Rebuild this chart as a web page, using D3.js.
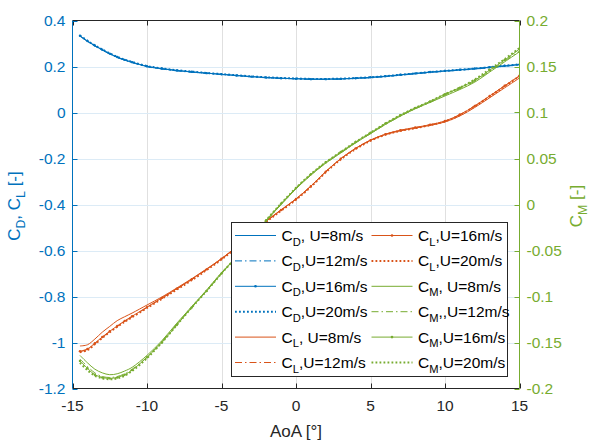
<!DOCTYPE html>
<html>
<head>
<meta charset="utf-8">
<script src="https://cdn.jsdelivr.net/npm/d3@7"></script>
<style>
  html, body { margin: 0; padding: 0; background: #fff; }
  svg { display: block; font-family: "Liberation Sans", Arial, Helvetica, sans-serif; }
</style>
</head>
<body>
<svg id="chart" width="597" height="442"></svg>
<script>
// Angle of attack (deg)
const aoa = [-14.5,-14,-13.5,-13,-12.5,-12,-11.5,-11,-10,-9,-8,-7,-6,-5,-4,-3,-2,-1,0,1,2,3,4,5,6,7,8,9,10,11,12,13,14,15];

// Drag coefficient per wind speed
const cdU8  = [0.333,0.310,0.290,0.272,0.255,0.240,0.228,0.218,0.200,0.190,0.182,0.176,0.171,0.166,0.161,0.156,0.152,0.149,0.147,0.145,0.145,0.146,0.149,0.152,0.157,0.163,0.169,0.175,0.180,0.185,0.190,0.196,0.202,0.208];
const cdU12 = [0.332,0.309,0.289,0.271,0.254,0.239,0.227,0.217,0.199,0.189,0.181,0.175,0.170,0.165,0.160,0.155,0.151,0.148,0.146,0.144,0.144,0.145,0.148,0.151,0.156,0.162,0.168,0.174,0.179,0.184,0.189,0.195,0.201,0.207];
const cdU16 = [0.334,0.311,0.291,0.273,0.256,0.241,0.229,0.219,0.201,0.191,0.183,0.177,0.171,0.166,0.161,0.156,0.152,0.149,0.147,0.145,0.145,0.146,0.149,0.153,0.158,0.164,0.170,0.176,0.181,0.186,0.191,0.197,0.203,0.209];
const cdU20 = [0.335,0.312,0.292,0.274,0.257,0.242,0.230,0.220,0.202,0.192,0.184,0.178,0.172,0.167,0.162,0.157,0.153,0.150,0.148,0.146,0.146,0.147,0.150,0.153,0.158,0.164,0.170,0.176,0.181,0.186,0.191,0.197,0.203,0.209];

// Lift coefficient per wind speed
const clU8  = [-1.015,-1.010,-0.985,-0.955,-0.930,-0.905,-0.888,-0.872,-0.837,-0.802,-0.763,-0.723,-0.680,-0.635,-0.584,-0.528,-0.472,-0.423,-0.376,-0.320,-0.257,-0.201,-0.156,-0.121,-0.096,-0.080,-0.068,-0.056,-0.041,-0.015,0.022,0.064,0.107,0.150];
const clU12 = [-1.040,-1.030,-1.005,-0.978,-0.953,-0.930,-0.908,-0.888,-0.848,-0.808,-0.768,-0.727,-0.683,-0.637,-0.586,-0.530,-0.474,-0.425,-0.377,-0.321,-0.258,-0.202,-0.157,-0.121,-0.095,-0.078,-0.066,-0.054,-0.038,-0.010,0.028,0.071,0.115,0.158];
const clU16 = [-1.038,-1.028,-1.003,-0.976,-0.951,-0.928,-0.906,-0.886,-0.846,-0.806,-0.766,-0.725,-0.682,-0.636,-0.585,-0.529,-0.473,-0.424,-0.376,-0.320,-0.257,-0.201,-0.156,-0.120,-0.094,-0.077,-0.065,-0.053,-0.037,-0.009,0.029,0.072,0.116,0.160];
const clU20 = [-1.042,-1.033,-1.008,-0.980,-0.955,-0.932,-0.910,-0.890,-0.850,-0.810,-0.770,-0.729,-0.685,-0.639,-0.588,-0.532,-0.476,-0.427,-0.379,-0.323,-0.260,-0.204,-0.159,-0.123,-0.097,-0.080,-0.068,-0.055,-0.039,-0.011,0.027,0.070,0.114,0.158];

// Pitching moment coefficient per wind speed
const cmU8  = [-0.164,-0.172,-0.179,-0.183,-0.185,-0.184,-0.181,-0.177,-0.164,-0.148,-0.129,-0.111,-0.093,-0.074,-0.057,-0.038,-0.018,0.000,0.017,0.032,0.045,0.056,0.067,0.077,0.087,0.096,0.104,0.111,0.118,0.125,0.133,0.144,0.155,0.166];
const cmU12 = [-0.168,-0.176,-0.183,-0.187,-0.188,-0.187,-0.184,-0.179,-0.166,-0.149,-0.130,-0.112,-0.094,-0.075,-0.057,-0.038,-0.018,0.000,0.017,0.032,0.045,0.056,0.067,0.077,0.087,0.096,0.104,0.111,0.119,0.126,0.134,0.145,0.156,0.167];
const cmU16 = [-0.170,-0.178,-0.185,-0.188,-0.189,-0.188,-0.185,-0.180,-0.166,-0.150,-0.131,-0.112,-0.094,-0.075,-0.057,-0.037,-0.017,0.001,0.018,0.033,0.046,0.057,0.068,0.078,0.088,0.097,0.105,0.112,0.120,0.127,0.135,0.146,0.157,0.169];
const cmU20 = [-0.172,-0.180,-0.186,-0.189,-0.190,-0.189,-0.186,-0.181,-0.167,-0.150,-0.131,-0.112,-0.094,-0.075,-0.057,-0.037,-0.017,0.001,0.018,0.033,0.046,0.057,0.068,0.078,0.088,0.097,0.105,0.112,0.120,0.127,0.136,0.147,0.158,0.170];

// Tick values
const xTicks  = [-15,-10,-5,0,5,10,15];
const yLTicks = [-1.2,-1,-0.8,-0.6,-0.4,-0.2,0,0.2,0.4];
const yRTicks = [-0.2,-0.15,-0.1,-0.05,0,0.05,0.1,0.15,0.2];

const blue = "#0072BD", orange = "#D95319", green = "#77AC30", ink = "#262626";

const svg = d3.select("#chart");
const L = 72.5, R = 519.5, T = 20.5, B = 388.5;

const x  = d3.scaleLinear().domain([-15, 15]).range([L, R]);
const yL = d3.scaleLinear().domain([-1.2, 0.4]).range([B, T]);
const yR = d3.scaleLinear().domain([-0.2, 0.2]).range([B, T]);

// line styles for each wind speed
const styles = {
  U8:  { dash: null,        width: 1.0, marker: false },
  U12: { dash: "7,3,1.5,3", width: 1.0, marker: false },
  U16: { dash: null,        width: 1.0, marker: true  },
  U20: { dash: "1.8,2.2",   width: 2.0, marker: false }
};

const series = [
  { v: cdU8,  axis: "L", color: blue,   s: "U8"  },
  { v: cdU12, axis: "L", color: blue,   s: "U12" },
  { v: cdU16, axis: "L", color: blue,   s: "U16" },
  { v: cdU20, axis: "L", color: blue,   s: "U20" },
  { v: clU8,  axis: "L", color: orange, s: "U8"  },
  { v: clU12, axis: "L", color: orange, s: "U12" },
  { v: clU16, axis: "L", color: orange, s: "U16" },
  { v: clU20, axis: "L", color: orange, s: "U20" },
  { v: cmU8,  axis: "R", color: green,  s: "U8"  },
  { v: cmU12, axis: "R", color: green,  s: "U12" },
  { v: cmU16, axis: "R", color: green,  s: "U16" },
  { v: cmU20, axis: "R", color: green,  s: "U20" }
];

// Grid
const grid = svg.append("g");
grid.selectAll(".gx").data(xTicks.slice(1, -1)).join("line")
  .attr("x1", d => Math.round(x(d)) + 0.5).attr("x2", d => Math.round(x(d)) + 0.5)
  .attr("y1", T).attr("y2", B)
  .attr("stroke", "#e0e0e0").attr("stroke-width", 1);
grid.selectAll(".gy").data(yLTicks.slice(1, -1)).join("line")
  .attr("x1", L).attr("x2", R)
  .attr("y1", d => Math.round(yL(d)) + 0.5).attr("y2", d => Math.round(yL(d)) + 0.5)
  .attr("stroke", "#dcebf6").attr("stroke-width", 1);

// Data
svg.append("clipPath").attr("id", "plotclip")
  .append("rect").attr("x", L).attr("y", T).attr("width", R - L).attr("height", B - T);
const plot = svg.append("g").attr("clip-path", "url(#plotclip)");

series.forEach(sr => {
  const ys = sr.axis === "L" ? yL : yR;
  const st = styles[sr.s];
  const pts = aoa.map((a, i) => [a, sr.v[i]]);
  const line = d3.line().x(d => x(d[0])).y(d => ys(d[1])).curve(d3.curveCatmullRom.alpha(0.5));
  plot.append("path").attr("d", line(pts))
    .attr("fill", "none").attr("stroke", sr.color)
    .attr("stroke-width", st.width)
    .attr("stroke-dasharray", st.dash);
  if (st.marker) {
    plot.selectAll(null).data(pts).join("circle")
      .attr("cx", d => x(d[0])).attr("cy", d => ys(d[1])).attr("r", 1.2)
      .attr("fill", sr.color);
  }
});

// Axes
const tickLen = 5;
const tickFont = 15.5;
const axes = svg.append("g").attr("font-size", tickFont);

// top & bottom frame
axes.append("line").attr("x1", L).attr("x2", R).attr("y1", T).attr("y2", T).attr("stroke", ink).attr("stroke-width", 1);
axes.append("line").attr("x1", L).attr("x2", R).attr("y1", B).attr("y2", B).attr("stroke", ink).attr("stroke-width", 1);
axes.selectAll(".xt").data(xTicks).join("line")
  .attr("x1", d => Math.round(x(d)) + 0.5).attr("x2", d => Math.round(x(d)) + 0.5)
  .attr("y1", B).attr("y2", B - tickLen).attr("stroke", ink);
axes.selectAll(".xt2").data(xTicks).join("line")
  .attr("x1", d => Math.round(x(d)) + 0.5).attr("x2", d => Math.round(x(d)) + 0.5)
  .attr("y1", T).attr("y2", T + tickLen).attr("stroke", ink);
axes.selectAll(".xl").data(xTicks).join("text")
  .attr("x", d => x(d)).attr("y", B + 22).attr("text-anchor", "middle")
  .attr("font-size", tickFont).attr("fill", ink).text(d => d);
axes.append("text").attr("x", x(0)).attr("y", 437).attr("text-anchor", "middle")
  .attr("font-size", 17).attr("fill", ink).text("AoA [°]");

// left axis
axes.append("line").attr("x1", L).attr("x2", L).attr("y1", T).attr("y2", B).attr("stroke", blue);
axes.selectAll(".ylt").data(yLTicks).join("line")
  .attr("x1", L).attr("x2", L + tickLen)
  .attr("y1", d => Math.round(yL(d)) + 0.5).attr("y2", d => Math.round(yL(d)) + 0.5)
  .attr("stroke", blue);
axes.selectAll(".yll").data(yLTicks).join("text")
  .attr("x", L - 7).attr("y", d => yL(d) + 5.5).attr("text-anchor", "end")
  .attr("font-size", tickFont).attr("fill", blue).text(d => +d.toFixed(2));

// right axis
axes.append("line").attr("x1", R).attr("x2", R).attr("y1", T).attr("y2", B).attr("stroke", green);
axes.selectAll(".yrt").data(yRTicks).join("line")
  .attr("x1", R).attr("x2", R - tickLen)
  .attr("y1", d => Math.round(yR(d)) + 0.5).attr("y2", d => Math.round(yR(d)) + 0.5)
  .attr("stroke", green);
axes.selectAll(".yrl").data(yRTicks).join("text")
  .attr("x", R + 7).attr("y", d => yR(d) + 5.5).attr("text-anchor", "start")
  .attr("font-size", tickFont).attr("fill", green).text(d => +d.toFixed(2));

// text with subscripts: the shift is undone on the next run of normal text
function subText(sel, parts, size) {
  sel.attr("font-size", size);
  let shift = 0;
  parts.forEach(p => {
    if (p.sub) {
      sel.append("tspan").attr("font-size", size * 0.72).attr("dy", size * 0.3).text(p.t);
      shift = size * 0.3;
    } else {
      sel.append("tspan").attr("font-size", size).attr("dy", -shift).text(p.t);
      shift = 0;
    }
  });
}
const yLab = svg.append("text").attr("transform", "translate(20,206) rotate(-90)")
  .attr("text-anchor", "middle").attr("fill", blue);
subText(yLab, [{t: "C"}, {t: "D", sub: true}, {t: ", C"}, {t: "L", sub: true}, {t: " [-]"}], 17);

const yRLab = svg.append("text").attr("transform", "translate(582,206) rotate(-90)")
  .attr("text-anchor", "middle").attr("fill", green);
subText(yRLab, [{t: "C"}, {t: "M", sub: true}, {t: " [-]"}], 17);

// Legend
const legendItems = [
  { c: "D", tail: ", U=8m/s",  color: blue,   s: "U8"  },
  { c: "D", tail: ",U=12m/s",  color: blue,   s: "U12" },
  { c: "D", tail: ",U=16m/s",  color: blue,   s: "U16" },
  { c: "D", tail: ",U=20m/s",  color: blue,   s: "U20" },
  { c: "L", tail: ", U=8m/s",  color: orange, s: "U8"  },
  { c: "L", tail: ",U=12m/s",  color: orange, s: "U12" },
  { c: "L", tail: ",U=16m/s",  color: orange, s: "U16" },
  { c: "L", tail: ",U=20m/s",  color: orange, s: "U20" },
  { c: "M", tail: ", U=8m/s",  color: green,  s: "U8"  },
  { c: "M", tail: ",,U=12m/s", color: green,  s: "U12" },
  { c: "M", tail: ",U=16m/s",  color: green,  s: "U16" },
  { c: "M", tail: ",U=20m/s",  color: green,  s: "U20" }
];
const lg = svg.append("g");
lg.append("rect").attr("x", 231.5).attr("y", 222.5).attr("width", 276).attr("height", 154)
  .attr("fill", "#fff").attr("stroke", ink).attr("stroke-width", 1);
legendItems.forEach((it, i) => {
  const col = Math.floor(i / 6), row = i % 6;
  const lx = col === 0 ? 235 : 371.5;
  const ty = 235.5 + row * 25.4;
  const st = styles[it.s];
  lg.append("line").attr("x1", lx).attr("x2", lx + 41).attr("y1", ty).attr("y2", ty)
    .attr("stroke", it.color).attr("stroke-width", st.width).attr("stroke-dasharray", st.dash);
  if (st.marker) lg.append("circle").attr("cx", lx + 20.5).attr("cy", ty).attr("r", 1.3).attr("fill", it.color);
  const t = lg.append("text").attr("x", lx + 46.5).attr("y", ty + 5.5).attr("fill", "#000");
  subText(t, [{t: "C"}, {t: it.c, sub: true}, {t: it.tail}], 15.5);
});
</script>
</body>
</html>
